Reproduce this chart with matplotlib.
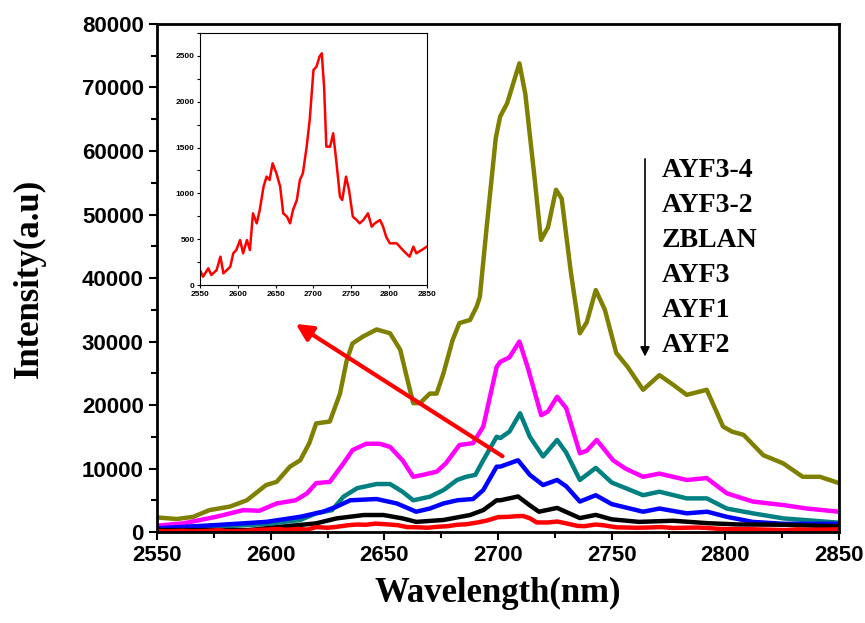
import matplotlib
matplotlib.use('Agg')
from matplotlib import pyplot as plt
from matplotlib.ticker import MultipleLocator

# AYF3-4 (olive)
wl_ayf34 = [2550, 2558.7, 2566, 2573, 2582, 2589.5, 2598, 2602.6, 2608.5, 2613, 2617, 2620, 2626,
            2630.5, 2633.5, 2636, 2640.7, 2646.6, 2652.5, 2657, 2659.8, 2662.7, 2665.7, 2670, 2673,
            2676, 2680, 2683, 2687.7, 2690.6, 2692, 2695, 2699, 2700.9, 2704, 2709.4, 2712, 2716,
            2718.9, 2722, 2725.5, 2728, 2732, 2736, 2739, 2743, 2747, 2752, 2757, 2763.8, 2771,
            2777, 2783, 2791.8, 2799, 2803, 2808, 2816.7, 2825.5, 2834, 2841.6, 2850]
in_ayf34 = [2300, 2050, 2400, 3450, 4000, 5000, 7400, 7900, 10300, 11300, 14000, 17100, 17400,
            21800, 27100, 29700, 30800, 31900, 31300, 28700, 24500, 20300, 20300, 21800, 21800,
            25000, 30200, 32900, 33400, 35500, 37000, 48000, 62000, 65400, 67500, 73800, 69000, 56000,
            46000, 48000, 53900, 52500, 41000, 31300, 33000, 38100, 35000, 28200, 26000, 22400, 24700,
            23200, 21600, 22400, 16600, 15800, 15300, 12100, 10800, 8700, 8700, 7700]

# AYF3-2 (magenta)
wl_ayf32 = [2550, 2561.6, 2576, 2588, 2595, 2602.6, 2611, 2616, 2620, 2626, 2632, 2636, 2642, 2648,
            2652.5, 2658, 2662.7, 2667, 2673, 2677, 2683, 2689, 2693.5, 2699.4, 2701, 2705, 2709.4,
            2713, 2719, 2722, 2726, 2730, 2736, 2739, 2743.4, 2750.6, 2756, 2763.8, 2771, 2783,
            2791.8, 2800.6, 2812, 2825.5, 2835.8, 2850]
in_ayf32 = [1000, 1370, 2400, 3450, 3350, 4500, 5000, 6100, 7700, 7900, 10800, 12900, 13900, 13900,
            13400, 11300, 8700, 9000, 9500, 10800, 13700, 14000, 16600, 26000, 26800, 27500, 30000,
            26000, 18400, 19000, 21300, 19500, 12400, 12800, 14500, 11300, 10000, 8700, 9200, 8200,
            8500, 6100, 4800, 4250, 3700, 3200]

# ZBLAN (teal)
wl_zblan = [2550, 2576, 2598, 2613, 2620, 2627, 2632, 2638, 2646.6, 2652.5, 2658, 2662.7, 2670, 2676,
            2682, 2686, 2690, 2693.5, 2699.4, 2701, 2705, 2709.7, 2714, 2719.8, 2726, 2730, 2736,
            2743, 2750, 2763.8, 2771, 2783, 2791.8, 2800.6, 2812, 2825.5, 2850]
in_zblan = [500, 840, 1260, 1900, 2950, 3450, 5560, 6900, 7560, 7560, 6350, 5000, 5560, 6600,
            8200, 8700, 9000, 11300, 15000, 14800, 15800, 18700, 15000, 11900, 14500, 12500, 8200,
            10100, 7800, 5800, 6350, 5300, 5300, 3700, 2950, 2150, 1470]

# AYF3 (blue)
wl_ayf3 = [2550, 2576, 2598, 2613, 2623, 2629, 2635, 2646.6, 2655.5, 2664, 2670, 2676, 2682, 2689,
           2693.5, 2699.4, 2701, 2708.8, 2714, 2719.8, 2726, 2730, 2736, 2743, 2750, 2763.8, 2771,
           2783, 2792, 2800.6, 2812, 2825.5, 2850]
in_ayf3 = [600, 1100, 1600, 2400, 3200, 4000, 5000, 5200, 4500, 3200, 3700, 4500, 5000, 5200,
           6600, 10300, 10300, 11300, 9000, 7400, 8200, 7200, 4800, 5800, 4400, 3200, 3700,
           2950, 3200, 2400, 1600, 1300, 1300]

# AYF1 (black)
wl_ayf1 = [2550, 2590, 2605, 2620, 2629, 2641, 2649.6, 2658, 2664, 2676, 2687.7, 2693.5, 2699.4,
           2701, 2708.8, 2714, 2718, 2726, 2736, 2743, 2750, 2762, 2777, 2792, 2805, 2825, 2850]
in_ayf1 = [300, 300, 840, 1370, 2150, 2680, 2680, 2150, 1600, 1900, 2680, 3450, 5000,
           5000, 5600, 4200, 3200, 3800, 2200, 2700, 2000, 1600, 1780, 1400, 1200, 1150, 900]

# AYF2 (red) - also shown in the inset
wl_ayf2 = [2550, 2554, 2561, 2565, 2572, 2577, 2581, 2590, 2594, 2598, 2603, 2607, 2612, 2616, 2620,
           2625, 2629, 2634, 2638, 2642, 2646, 2651, 2656, 2660, 2665, 2669, 2673, 2678, 2682, 2686,
           2691, 2695, 2700, 2704, 2708, 2711, 2714, 2717, 2722, 2726, 2730, 2735, 2738, 2743, 2747,
           2752, 2757, 2761, 2766, 2772, 2777, 2781, 2788, 2792, 2796, 2801, 2810, 2818, 2827, 2832,
           2836, 2843, 2850]
in_ayf2 = [164, 91, 182, 109, 164, 309, 127, 200, 346, 382, 491, 346, 491, 382, 782,
           673, 819, 1073, 1183, 1146, 1328, 1219, 1073, 782, 746, 673, 819, 928, 1146, 1219,
           1510, 1801, 2347, 2383, 2493, 2529, 2165, 1510, 1510, 1656, 1365, 964, 928, 1183, 1037,
           746, 710, 673, 710, 782, 637, 673, 710, 637, 528, 455, 455, 382, 309, 419,
           346, 382, 419]

labels = ['AYF3-4', 'AYF3-2', 'ZBLAN', 'AYF3', 'AYF1', 'AYF2']

fig = plt.figure(figsize=(8.65, 6.23), dpi=100)
ax = fig.add_axes([0.1815, 0.146, 0.7885, 0.8155])

ax.plot(wl_ayf34, in_ayf34, color='#808000', lw=3.2)
ax.plot(wl_ayf32, in_ayf32, color='#ff00ff', lw=3.2)
ax.plot(wl_zblan, in_zblan, color='#008080', lw=3.2)
ax.plot(wl_ayf3, in_ayf3, color='#0000ff', lw=3.2)
ax.plot(wl_ayf1, in_ayf1, color='black', lw=3.2)
ax.plot(wl_ayf2, in_ayf2, color='#ff0000', lw=3.2)

ax.set_xlim(2550, 2850)
ax.set_ylim(0, 80000)
ax.xaxis.set_major_locator(MultipleLocator(50))
ax.xaxis.set_minor_locator(MultipleLocator(25))
ax.yaxis.set_major_locator(MultipleLocator(10000))
ax.yaxis.set_minor_locator(MultipleLocator(5000))
ax.tick_params(which='major', direction='out', length=6, width=1.5)
ax.tick_params(which='minor', direction='out', length=4, width=1.5)
for lab in ax.get_xticklabels() + ax.get_yticklabels():
    lab.set_fontfamily('Liberation Sans')
    lab.set_fontweight('bold')
    lab.set_fontsize(16)
for s in ax.spines.values():
    s.set_linewidth(2)

ax.set_xlabel('Wavelength(nm)', fontfamily='Liberation Serif', fontweight='bold', fontsize=25, labelpad=8)
ax.set_ylabel('Intensity(a.u)', fontfamily='Liberation Serif', fontweight='bold', fontsize=25, labelpad=26)

# sample names with downward arrow
ax.text(0.740, 0.736, '\n'.join(labels), transform=ax.transAxes, va='top', ha='left',
        fontfamily='Liberation Serif', fontweight='bold', fontsize=20, linespacing=1.52)
ax.annotate('', xy=(0.7155, 0.34), xytext=(0.7155, 0.74), xycoords='axes fraction',
            arrowprops=dict(arrowstyle='-|>', color='black', lw=1.2, mutation_scale=14))

# red arrow pointing at inset
ax.annotate('', xy=(2610, 33000), xytext=(2703, 11700),
            arrowprops=dict(arrowstyle='-|>', color='#ff0000', lw=3, mutation_scale=25))

# inset
ins = fig.add_axes([0.2312, 0.5425, 0.2624, 0.4045])
ins.plot(wl_ayf2, in_ayf2, color='#ff0000', lw=1.8)
ins.set_xlim(2550, 2850)
ins.set_ylim(0, 2750)
ins.xaxis.set_major_locator(MultipleLocator(50))
ins.yaxis.set_major_locator(MultipleLocator(500))
ins.yaxis.set_minor_locator(MultipleLocator(250))
ins.tick_params(which='both', direction='out', length=2.5, width=0.8, labelsize=6, pad=1.5)
for lab in ins.get_xticklabels() + ins.get_yticklabels():
    lab.set_fontfamily('Liberation Sans')
    lab.set_fontweight('bold')
for s in ins.spines.values():
    s.set_linewidth(0.8)

plt.savefig('out.png', format='png', dpi=100)
